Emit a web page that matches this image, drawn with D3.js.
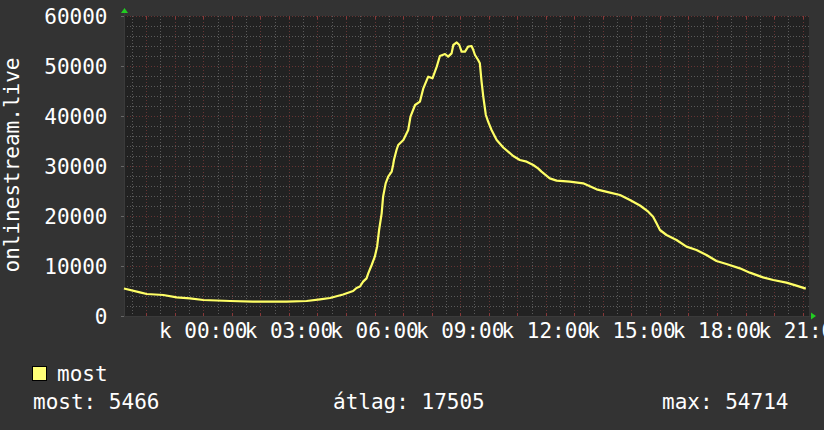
<!DOCTYPE html>
<html>
<head>
<meta charset="utf-8">
<script src="https://cdn.jsdelivr.net/npm/d3@7/dist/d3.min.js"></script>
<style>
  html, body { margin: 0; padding: 0; background: #333333; }
  svg { display: block; }
  text { font-family: "DejaVu Sans Mono", monospace; font-size: 21px; fill: #ffffff; }
</style>
</head>
<body>
<svg id="chart" width="824" height="430"></svg>
<script>
// ---- data (hours relative to midnight; negative = previous day) ----
const times = [-2.78, -2.22, -1.98, -1.40, -0.93, -0.47, 0.00, 0.94, 1.74, 2.92, 3.62, 4.09, 4.44, 4.90, 5.25,
  5.37, 5.49, 5.60, 5.72, 5.78, 5.90, 6.01, 6.09, 6.16, 6.25, 6.30, 6.39, 6.48, 6.60, 6.65, 6.68, 6.77, 6.83,
  7.01, 7.18, 7.26, 7.42, 7.59, 7.71, 7.88, 8.03, 8.18, 8.29, 8.47, 8.58, 8.70, 8.76, 8.88, 8.97, 9.05, 9.17,
  9.28, 9.40, 9.46, 9.52, 9.63, 9.69, 9.75, 9.81, 9.90, 9.98, 10.10, 10.28, 10.51, 10.86, 11.09, 11.33, 11.56,
  11.73, 11.85, 12.14, 12.38, 12.84, 13.31, 13.78, 14.25, 14.60, 14.95, 15.30, 15.59, 15.76, 15.88, 16.00,
  16.23, 16.58, 16.93, 17.28, 17.63, 17.98, 18.33, 18.80, 19.15, 19.61, 19.97, 20.43, 20.78, 21.11];
const values = [5500, 4730, 4400, 4200, 3730, 3530, 3200, 3000, 2870, 2870, 3000, 3330, 3600, 4300, 5000,
  5600, 5900, 6870, 7530, 8530, 10200, 11870, 13870, 17200, 20530, 23870, 26530, 27870, 28870, 30200, 31200, 33200, 34200,
  35200, 37200, 39870, 42200, 42870, 45530, 47870, 47530, 49870, 52000, 52400, 51870, 52530, 54200, 54714, 54200, 52870, 52870,
  53870, 54000, 53200, 52200, 51200, 50530, 46870, 43870, 40200, 38870, 37200, 35200, 33700, 32000, 31200, 30870, 30200,
  29530, 28870, 27530, 27070, 26870, 26530, 25330, 24670, 24200, 23200, 22100, 20870, 19870, 18530, 17200,
  16200, 15200, 13870, 13200, 12200, 11000, 10400, 9530, 8670, 7730, 7200, 6670, 6070, 5466];
const xDomain = [-2.7778, 21.2222];
const yTicks = [0, 10000, 20000, 30000, 40000, 50000, 60000];
const xLabelHours = [0, 3, 6, 9, 12, 15, 18, 21];
const xLabelDay = "k";
const yTitle = "onlinestream.live";
const seriesName = "most";
const statLabels = ["most", "átlag", "max"];
const statValues = [5466, 17505, 54714];

// ---- layout ----
const svg = d3.select("#chart");
const L = 124, R = 809, T = 16, B = 316;
const x = d3.scaleLinear().domain(xDomain).range([L, R]);
const y = d3.scaleLinear().domain([0, 60000]).range([B, T]);

svg.append("rect").attr("x", 0).attr("y", 0).attr("width", 824).attr("height", 430).attr("fill", "#333333");
svg.append("rect").attr("x", L).attr("y", T).attr("width", R - L).attr("height", B - T).attr("fill", "#222222");

const grid = svg.append("g").attr("shape-rendering", "crispEdges");
const gray = "#5a5a5a", red = "#663434";
const px = v => Math.round(v) + 0.5;

// horizontal grid
const hMinor = d3.range(0, 60001, 2000).filter(v => v % 10000 !== 0);
grid.selectAll(".hmin").data(hMinor).join("line")
  .attr("x1", L).attr("x2", R).attr("y1", d => px(y(d))).attr("y2", d => px(y(d)))
  .attr("stroke", gray).attr("stroke-dasharray", "1,2");
grid.selectAll(".hmaj").data(yTicks).join("line")
  .attr("x1", L).attr("x2", R).attr("y1", d => px(y(d))).attr("y2", d => px(y(d)))
  .attr("stroke", red).attr("stroke-dasharray", "1,2");
// y ticks outside
grid.selectAll(".ytk").data(yTicks).join("line")
  .attr("x1", L - 3).attr("x2", L).attr("y1", d => px(y(d))).attr("y2", d => px(y(d)))
  .attr("stroke", "#666666");

// vertical grid
const hoursAll = d3.range(-2.5, 21.3, 0.5);
const vMinor = hoursAll.filter(h => h % 1 !== 0 && h >= xDomain[0] && h <= xDomain[1]);
const vMajor = hoursAll.filter(h => h % 1 === 0 && h >= xDomain[0] && h <= xDomain[1]);
grid.selectAll(".vmin").data(vMinor).join("line")
  .attr("x1", d => px(x(d))).attr("x2", d => px(x(d))).attr("y1", T).attr("y2", B)
  .attr("stroke", gray).attr("stroke-dasharray", "1,2");
grid.selectAll(".vmaj").data(vMajor).join("line")
  .attr("x1", d => px(x(d))).attr("x2", d => px(x(d))).attr("y1", T).attr("y2", B)
  .attr("stroke", red).attr("stroke-dasharray", "1,2");
// ticks at top and bottom
grid.selectAll(".vtkb").data(vMajor).join("line")
  .attr("x1", d => px(x(d))).attr("x2", d => px(x(d))).attr("y1", B - 3).attr("y2", B)
  .attr("stroke", "#883838");
grid.selectAll(".vtkt").data(vMajor).join("line")
  .attr("x1", d => px(x(d))).attr("x2", d => px(x(d))).attr("y1", T).attr("y2", T + 3)
  .attr("stroke", "#883838");

// axes
grid.append("line").attr("x1", L).attr("x2", R + 3).attr("y1", B + 0.5).attr("y2", B + 0.5).attr("stroke", "#3a3a3a");
grid.append("line").attr("x1", L + 0.5).attr("x2", L + 0.5).attr("y1", T - 3).attr("y2", B).attr("stroke", "#3a3a3a");
svg.append("path").attr("d", `M${L - 3},${T - 3}L${L + 4},${T - 3}L${L + 0.5},${T - 8}Z`).attr("fill", "#22cc22");
svg.append("path").attr("d", `M${R + 2},${B - 3.5}L${R + 2},${B + 3.5}L${R + 7},${B}Z`).attr("fill", "#22cc22");

// line
const pts = times.map((t, i) => [t, values[i]]);
svg.append("path")
  .attr("d", d3.line().x(d => x(d[0])).y(d => y(d[1]))(pts))
  .attr("fill", "none").attr("stroke", "#ffff66").attr("stroke-width", 2.2).attr("stroke-linejoin", "round");

// y tick labels
svg.selectAll(".ylab").data(yTicks).join("text")
  .attr("x", 107.5).attr("y", d => y(d) + 7.5).attr("text-anchor", "end").text(d => d);

// x labels
svg.selectAll(".xlab").data(xLabelHours).join("text")
  .attr("x", d => x(d)).attr("y", 338).attr("text-anchor", "middle")
  .text(d => `${xLabelDay} ${String(d).padStart(2, "0")}:00`);

// y title
svg.append("text").attr("transform", "translate(19,165) rotate(-90)").attr("text-anchor", "middle").text(yTitle);

// legend
svg.append("rect").attr("x", 32.5).attr("y", 366.5).attr("width", 14).attr("height", 14)
  .attr("fill", "#ffff77").attr("stroke", "#000000").attr("stroke-width", 1);
svg.append("text").attr("x", 57).attr("y", 381).text(seriesName);
const statX = [33, 333, 662];
svg.selectAll(".stat").data(statLabels).join("text")
  .attr("x", (d, i) => statX[i]).attr("y", 409).text((d, i) => `${d}: ${statValues[i]}`);
</script>
</body>
</html>
